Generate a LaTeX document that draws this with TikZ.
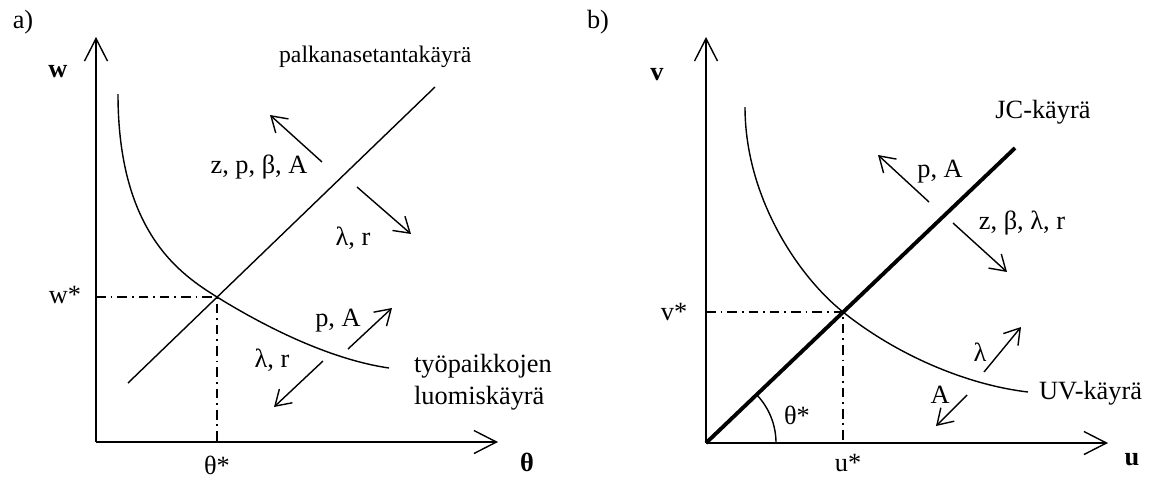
\documentclass[tikz,border=0pt]{standalone}
\usepackage{fontspec}
\setmainfont{Liberation Serif}
\usetikzlibrary{arrows.meta}

\begin{document}
\begin{tikzpicture}[x=0.02cm, y=-0.02cm,
  every node/.style={font=\fontsize{15}{17}\selectfont, inner sep=1pt},
  axis/.style={line width=0.8pt, -{Straight Barb[length=4.5mm,width=4.6mm]}},
  shiftarrow/.style={line width=0.8pt, -{Straight Barb[length=3mm,width=3.8mm]}},
  curve/.style={line width=0.8pt},
  guide/.style={line width=0.6pt, dash pattern=on 5.5pt off 2.8pt on 1pt off 2.8pt}]
\useasboundingbox (0,0) rectangle (1158,481);

% ---------- a) wage setting vs job creation ----------
\node (tagA) at (23,22) {a)};
\coordinate (oa) at (96,442);
\coordinate (ya) at (96,37);
\coordinate (xa) at (498,442);
\draw[axis] (oa) -- (ya);
\draw[axis] (oa) -- (xa);
\node (wlab) at (58,72) {\textbf{w}};
\node (thlab) at (527,462) {\textbf{θ}};

% Wage-setting curve
\coordinate (wsA) at (128,383);
\coordinate (wsB) at (435,87);
\draw[curve] (wsA) -- (wsB);
\node[anchor=west, font=\fontsize{13.5}{16}\selectfont] (wslab) at (277,57) {palkanasetantakäyrä};

% Job creation curve
\coordinate (eqa) at (217,297);
\draw[curve] (118,94) .. controls (118,234) and (182,275) .. (eqa)
  .. controls (272,331) and (334,360) .. (389,368);
\node[anchor=west, align=left, font=\fontsize{15}{18}\selectfont] (jclab) at (412,382) {työpaikkojen\\luomiskäyrä};

% Equilibrium
\draw[guide] (oa |- eqa) -- (eqa) -- (eqa |- oa);
\node (wst) at (65,295) {w*};
\node (tst) at (217,465) {θ*};

% Shifts
\coordinate (s1a) at (322,162); \coordinate (e1a) at (270,115);
\coordinate (s2a) at (357,187); \coordinate (e2a) at (411,234);
\coordinate (s3a) at (348,349); \coordinate (e3a) at (392,308);
\coordinate (s4a) at (323,361); \coordinate (e4a) at (274,407);
\draw[shiftarrow] (s1a) -- (e1a);
\draw[shiftarrow] (s2a) -- (e2a);
\draw[shiftarrow] (s3a) -- (e3a);
\draw[shiftarrow] (s4a) -- (e4a);
\node (l1a) at (259,167) {z, p, β, A};
\node (l2a) at (353,238) {λ, r};
\node (l3a) at (338,321) {p, A};
\node (l4a) at (272,360) {λ, r};

% ---------- b) Beveridge curve ----------
\node (tagB) at (598,22) {b)};
\coordinate (ob) at (706,443);
\coordinate (yb) at (706,37);
\coordinate (xb) at (1108,443);
\draw[axis] (ob) -- (yb);
\draw[axis] (ob) -- (xb);
\node (vlab) at (657,75) {\textbf{v}};
\node (ulab) at (1132,460) {\textbf{u}};

% JC curve
\coordinate (jcB) at (1015,148);
\draw[line width=2.2pt] (ob) -- (jcB);
\node (jclabB) at (1043,112) {JC-käyrä};
\draw[line width=0.8pt] (ob) ++(70,0) arc[start angle=0, end angle=-43.6, radius=70];
\node (angle) at (797,415) {θ*};

% UV curve
\coordinate (eqb) at (843,312);
\draw[curve] (745,107) .. controls (745,197) and (798,276) .. (eqb)
  .. controls (898,356) and (968,385) .. (1028,392);
\node[anchor=west] (uvlab) at (1037,393) {UV-käyrä};

% Equilibrium
\draw[guide] (ob |- eqb) -- (eqb) -- (eqb |- ob);
\node (vst) at (674,312) {v*};
\node (ust) at (848,463) {u*};

% Shifts
\coordinate (s1b) at (929,202); \coordinate (e1b) at (878,155);
\coordinate (s2b) at (953,223); \coordinate (e2b) at (1007,272);
\coordinate (s3b) at (984,372); \coordinate (e3b) at (1021,327);
\coordinate (s4b) at (967,395); \coordinate (e4b) at (936,426);
\draw[shiftarrow] (s1b) -- (e1b);
\draw[shiftarrow] (s2b) -- (e2b);
\draw[shiftarrow] (s3b) -- (e3b);
\draw[shiftarrow] (s4b) -- (e4b);
\node (l1b) at (940,172) {p, A};
\node (l2b) at (1022,223) {z, β, λ, r};
\node (l3b) at (980,352) {λ};
\node (l4b) at (940,395) {A};
\end{tikzpicture}
\end{document}
